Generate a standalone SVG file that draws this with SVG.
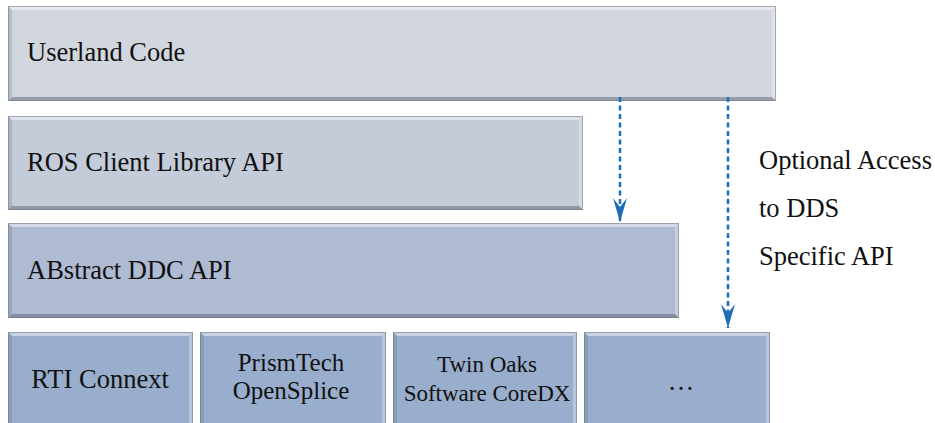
<svg xmlns="http://www.w3.org/2000/svg" width="935" height="423" viewBox="0 0 935 423">
<defs>
<style>
.t{font-family:'Liberation Serif',serif;font-size:26.5px;fill:#111}
.s{font-size:23px}
.m{font-size:25px}
.c1{fill:#d1d6df}.c2{fill:#c4cbd9}.c3{fill:#afbbd2}.c4{fill:#99aecc}
.bt{fill:#ffffff;fill-opacity:.45}
.bl{fill:#5a6270;fill-opacity:.22}
.br{fill:#ffffff;fill-opacity:.3}
.bb{fill:#3c4452;fill-opacity:.38}
.ol{fill:none;stroke:#6f7784;stroke-opacity:.55;stroke-width:1}
.con{fill:none;stroke:#1f6eb5;stroke-width:2.5;stroke-dasharray:5 3.5}
</style>
<marker id="ah" markerUnits="userSpaceOnUse" viewBox="-24 -8 25 16" refX="0" refY="0" markerWidth="25" markerHeight="16" orient="auto">
<path d="M0,0 L-24,-7 L-15,0 L-24,7 Z" fill="#1f6eb5"/>
</marker>
</defs>
<rect width="935" height="423" fill="#ffffff"/>

<g id="userland">
<rect class="c1" x="8" y="6" width="768" height="95"/>
<polygon class="bt" points="8,6 776,6 772,10 12,10"/>
<polygon class="bl" points="8,6 12,10 12,97 8,101"/>
<polygon class="br" points="776,6 776,101 772,97 772,10"/>
<polygon class="bb" points="8,101 776,101 772,97 12,97"/>
<rect class="ol" x="8.5" y="6.5" width="767" height="94"/>
<text class="t" x="27" y="61">Userland Code</text>
</g>

<g id="ros">
<rect class="c2" x="8" y="116" width="575" height="94"/>
<polygon class="bt" points="8,116 583,116 579,120 12,120"/>
<polygon class="bl" points="8,116 12,120 12,206 8,210"/>
<polygon class="br" points="583,116 583,210 579,206 579,120"/>
<polygon class="bb" points="8,210 583,210 579,206 12,206"/>
<rect class="ol" x="8.5" y="116.5" width="574" height="93"/>
<text class="t" x="27" y="171">ROS Client Library API</text>
</g>

<g id="abstract">
<rect class="c3" x="8" y="223" width="671" height="95"/>
<polygon class="bt" points="8,223 679,223 675,227 12,227"/>
<polygon class="bl" points="8,223 12,227 12,314 8,318"/>
<polygon class="br" points="679,223 679,318 675,314 675,227"/>
<polygon class="bb" points="8,318 679,318 675,314 12,314"/>
<rect class="ol" x="8.5" y="223.5" width="670" height="94"/>
<text class="t" x="27" y="279">ABstract DDC API</text>
</g>

<g id="rti">
<rect class="c4" x="8" y="332" width="185" height="100"/>
<polygon class="bt" points="8,332 193,332 189,336 12,336"/>
<polygon class="bl" points="8,332 12,336 12,428 8,432"/>
<polygon class="br" points="193,332 193,432 189,428 189,336"/>
<rect class="ol" x="8.5" y="332.5" width="184" height="99"/>
<text class="t" x="100" y="388" text-anchor="middle">RTI Connext</text>
</g>

<g id="prismtech">
<rect class="c4" x="200" y="332" width="186" height="100"/>
<polygon class="bt" points="200,332 386,332 382,336 204,336"/>
<polygon class="bl" points="200,332 204,336 204,428 200,432"/>
<polygon class="br" points="386,332 386,432 382,428 382,336"/>
<rect class="ol" x="200.5" y="332.5" width="185" height="99"/>
<text class="t m" x="291" y="371" text-anchor="middle">PrismTech</text>
<text class="t m" x="291" y="399" text-anchor="middle">OpenSplice</text>
</g>

<g id="twinoaks">
<rect class="c4" x="393" y="332" width="184" height="100"/>
<polygon class="bt" points="393,332 577,332 573,336 397,336"/>
<polygon class="bl" points="393,332 397,336 397,428 393,432"/>
<polygon class="br" points="577,332 577,432 573,428 573,336"/>
<rect class="ol" x="393.5" y="332.5" width="183" height="99"/>
<text class="t s" x="487" y="372" text-anchor="middle">Twin Oaks</text>
<text class="t s" x="487" y="401" text-anchor="middle">Software CoreDX</text>
</g>

<g id="more">
<rect class="c4" x="584" y="332" width="186" height="100"/>
<polygon class="bt" points="584,332 770,332 766,336 588,336"/>
<polygon class="bl" points="584,332 588,336 588,428 584,432"/>
<polygon class="br" points="770,332 770,432 766,428 766,336"/>
<rect class="ol" x="584.5" y="332.5" width="185" height="99"/>
<text class="t" x="681" y="390" text-anchor="middle">…</text>
</g>

<g id="label">
<text class="t" x="759" y="169">Optional Access</text>
<text class="t" x="759" y="217">to DDS</text>
<text class="t" x="759" y="265">Specific API</text>
</g>

<g id="connectors">
<line class="con" x1="620" y1="97" x2="620" y2="222" marker-end="url(#ah)"/>
<line class="con" x1="728" y1="97" x2="728" y2="328" marker-end="url(#ah)"/>
</g>
</svg>
